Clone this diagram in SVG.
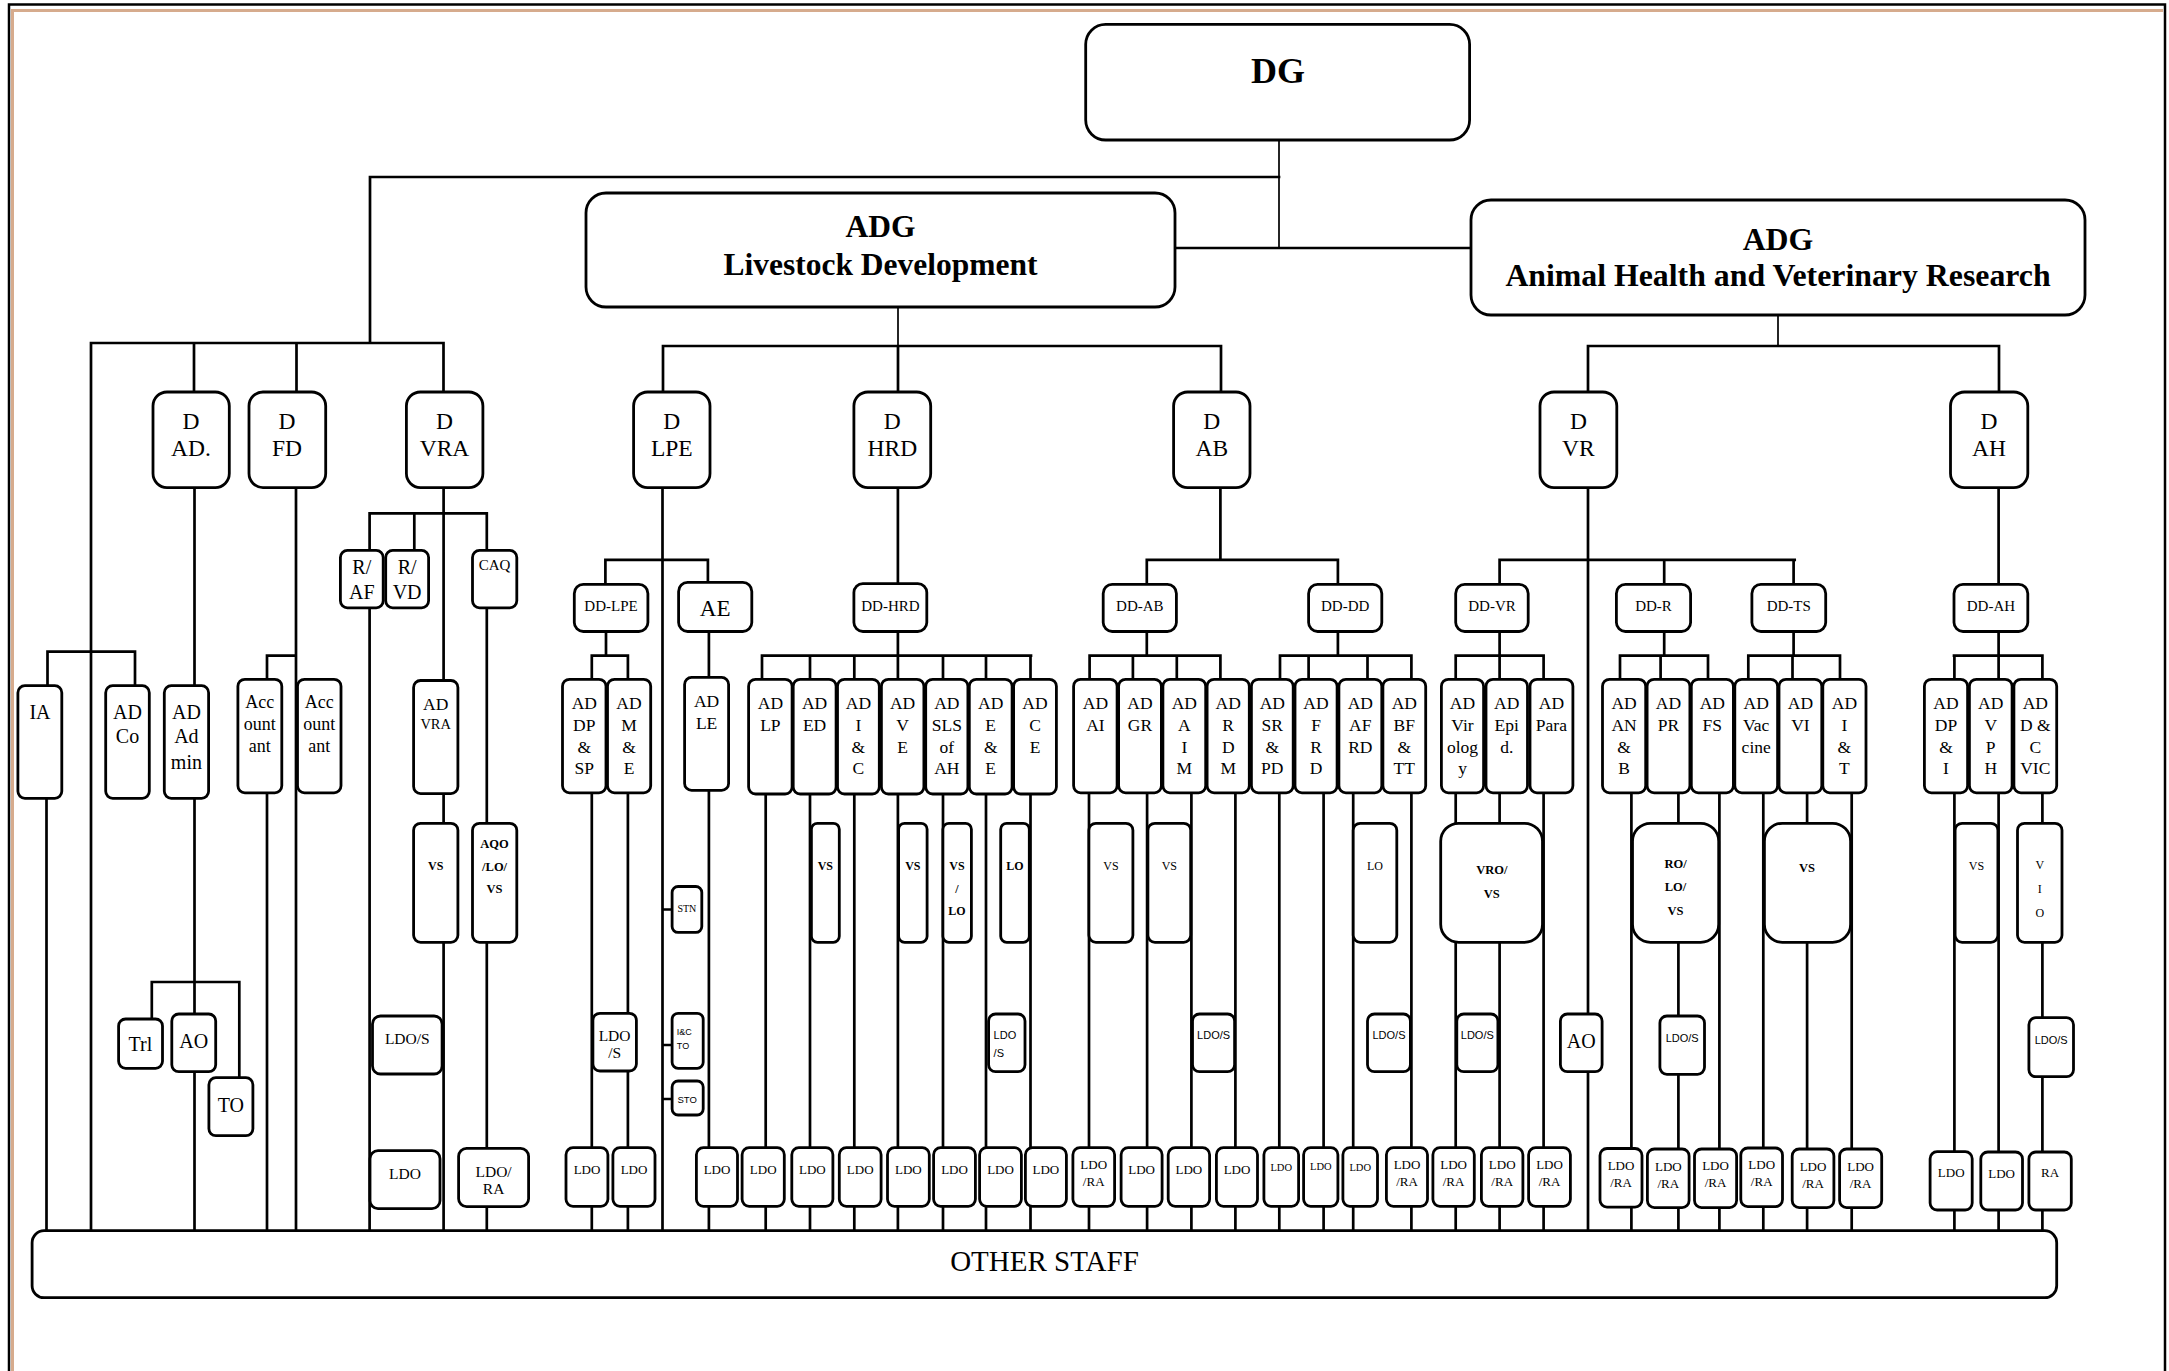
<svg xmlns="http://www.w3.org/2000/svg" width="2169" height="1371" viewBox="0 0 2169 1371">
<style>
.ln{fill:none;stroke:#000;stroke-width:2.7;stroke-linecap:square}
.thin{fill:none;stroke:#000;stroke-width:1.7}
.bx{fill:#fff;stroke:#000;stroke-width:2.8}
text{font-family:"Liberation Serif","Times New Roman",serif;fill:#000;text-anchor:middle}
.b{font-weight:bold}
.s{font-family:"Liberation Sans",Arial,sans-serif}
.d{font-size:23.5px}
.a{font-size:17.5px}
.l{font-size:20px}
.dd{font-size:15px}
.o13{font-size:13px}
.o15{font-size:15.5px}
.v{font-size:12px}
</style>
<rect width="2169" height="1371" fill="#fff"/>
<g id="frame">
<rect x="9" y="4.5" width="2156" height="1400" fill="none" stroke="#000" stroke-width="2.5"/>
<path d="M12.5 1371V10.5H2163" fill="none" stroke="#d6ab8d" stroke-width="3"/>
</g>
<g id="connectors">
<path class="thin" d="M1279 140V248M898 307V346M1778 315V346"/>
<path class="ln" d="M370 177H1279M370 177V343M1175 248H1471M663 346H1221M663 346V392M898 346V392M1221 346V392M1588 346H1999M1588 346V392M1999 346V392M91 343H443.5M91 343V1231M194 343V392M296.5 343V392M443.5 343V392
M47.5 651.6H135M47.5 651.6V686M135 651.6V686M46.5 798V1231M194.5 487V686M194.5 798V1231M151.8 982H239.3M151.8 982V1019M239.3 982V1078M296 487V1231M267 655.6H296M267 655.6V1231M443.6 487V1231M369.6 513.3H486.8M369.6 513.3V1231M414.3 513.3V550.4M486.8 513.3V1231
M662.5 487V1231M605.4 559.9H707.9M605.4 559.9V584.4M707.9 559.9V582.4M606 631.5V655.6M591.8 655.6H627.9M591.8 655.6V1231M627.9 655.6V1231M708.9 631.5V1231M662.5 909.5H672.1M662.5 1045H672.1M662.5 1099H672.1
M897.9 487V584M897.9 631.5V655.6M762 655.6H1031M762 655.6V680M765.7 794V1231M810 655.6V1231M854.3 655.6V1231M897.9 655.6V1231M943 655.6V1231M986 655.6V1231M1030.5 655.6V1231
M1220.4 487V559.9M1146.8 559.9H1337.9M1146.8 559.9V584.4M1337.9 559.9V584.4M1146.8 631.5V655.6M1089.6 655.6H1220.4M1089.6 655.6V680M1132.9 655.6V680M1176.8 655.6V680M1220.4 655.6V680M1089 793V1231M1147.1 793V1231M1191.4 793V1231M1235.4 793V1231M1337.9 631.5V655.6M1280 655.6H1411.4M1280 655.6V680M1308.6 655.6V680M1367.5 655.6V680M1411.4 655.6V680M1279.3 793V1231M1323.6 793V1231M1353.2 793V1231M1411.4 793V1231
M1588 487V1231M1499.6 559.9H1794.7M1499.6 559.9V584.4M1664.2 559.9V584.4M1793.6 559.9V584.4M1499.6 631.5V655.6M1455.7 655.6H1543.6M1455.7 655.6V1231M1499.6 655.6V1231M1543.6 655.6V1231M1664.2 631.5V655.6M1620 655.6H1708M1620 655.6V680M1660.6 655.6V680M1708 655.6V680M1631.4 793V1231M1678.4 793V1231M1719.4 793V1231M1793.6 631.5V655.6M1748.3 655.6H1840M1748.3 655.6V680M1792.5 655.6V680M1840 655.6V680M1763.3 793V1231M1807.1 793V1231M1851.7 793V1231
M1998.6 487V584.4M1998.6 631.5V655.6M1954 655.6H2042.4M1954.4 655.6V1231M1998.6 655.6V1231M2042.4 655.6V1231"/>
</g>
<g id="dg"><rect class="bx" x="1085.7" y="24.3" width="383.9" height="115.7" rx="20"/><text class="b" x="1278" y="83" font-size="36">DG</text></g>
<g id="adg-ld"><rect class="bx" x="586" y="193" width="589" height="114" rx="20"/><text class="b" font-size="31.5"><tspan x="880.5" y="237">ADG</tspan><tspan x="880.5" y="275">Livestock Development</tspan></text></g>
<g id="adg-ah"><rect class="bx" x="1471" y="200" width="614" height="115" rx="20"/><text class="b" font-size="31.8"><tspan x="1778" y="250">ADG</tspan><tspan x="1778" y="286">Animal Health and Veterinary Research</tspan></text></g>
<g id="d-ad"><rect class="bx" x="153" y="392" width="76.3" height="95.6" rx="14"/><text class="d"><tspan x="191" y="429">D</tspan><tspan x="191" y="456">AD.</tspan></text></g>
<g id="d-fd"><rect class="bx" x="249" y="392" width="76.7" height="95.6" rx="14"/><text class="d"><tspan x="287" y="429">D</tspan><tspan x="287" y="456">FD</tspan></text></g>
<g id="d-vra"><rect class="bx" x="406.4" y="392" width="76.5" height="95.6" rx="14"/><text class="d"><tspan x="444.5" y="429">D</tspan><tspan x="444.5" y="456">VRA</tspan></text></g>
<g id="d-lpe"><rect class="bx" x="633.6" y="392" width="76.4" height="95.6" rx="14"/><text class="d"><tspan x="671.8" y="429">D</tspan><tspan x="671.8" y="456">LPE</tspan></text></g>
<g id="d-hrd"><rect class="bx" x="853.9" y="392" width="76.8" height="95.6" rx="14"/><text class="d"><tspan x="892.3" y="429">D</tspan><tspan x="892.3" y="456">HRD</tspan></text></g>
<g id="d-ab"><rect class="bx" x="1173.6" y="392" width="76.4" height="95.6" rx="14"/><text class="d"><tspan x="1211.8" y="429">D</tspan><tspan x="1211.8" y="456">AB</tspan></text></g>
<g id="d-vr"><rect class="bx" x="1540" y="392" width="76.8" height="95.6" rx="14"/><text class="d"><tspan x="1578.4" y="429">D</tspan><tspan x="1578.4" y="456">VR</tspan></text></g>
<g id="d-ah"><rect class="bx" x="1950.5" y="392" width="77.3" height="95.6" rx="14"/><text class="d"><tspan x="1989.1" y="429">D</tspan><tspan x="1989.1" y="456">AH</tspan></text></g>
<g id="ia"><rect class="bx" x="17.9" y="685.7" width="43.9" height="112.6" rx="7"/><text class="l" x="40" y="719">IA</text></g>
<g id="ad-co"><rect class="bx" x="105.7" y="685.7" width="43.6" height="112.6" rx="7"/><text class="l"><tspan x="127.5" y="719">AD</tspan><tspan x="127.5" y="743">Co</tspan></text></g>
<g id="ad-admin"><rect class="bx" x="164.3" y="685.7" width="44.3" height="112.6" rx="7"/><text class="l"><tspan x="186.4" y="719">AD</tspan><tspan x="186.4" y="743">Ad</tspan><tspan x="186.4" y="768.7">min</tspan></text></g>
<g id="acc1"><rect class="bx" x="237.9" y="679.3" width="43.9" height="113.5" rx="7"/><text font-size="18"><tspan x="259.8" y="708.2">Acc</tspan><tspan x="259.8" y="730.3">ount</tspan><tspan x="259.8" y="751.7">ant</tspan></text></g>
<g id="acc2"><rect class="bx" x="297.5" y="679.3" width="43.5" height="113.5" rx="7"/><text font-size="18"><tspan x="319.2" y="708.2">Acc</tspan><tspan x="319.2" y="730.3">ount</tspan><tspan x="319.2" y="751.7">ant</tspan></text></g>
<g id="trl"><rect class="bx" x="118.6" y="1019" width="43.9" height="49.3" rx="7"/><text class="l" x="140.4" y="1051">Trl</text></g>
<g id="ao-ad"><rect class="bx" x="171.8" y="1014" width="43.9" height="57.7" rx="7"/><text class="l" x="193.7" y="1048.3">AO</text></g>
<g id="to"><rect class="bx" x="208.9" y="1077.7" width="44" height="58" rx="7"/><text class="l" x="230.9" y="1111.7">TO</text></g>
<g id="r-af"><rect class="bx" x="340.4" y="550.4" width="42.8" height="57.4" rx="7"/><text class="l"><tspan x="361.8" y="573.8">R/</tspan><tspan x="361.8" y="598.7">AF</tspan></text></g>
<g id="r-vd"><rect class="bx" x="385.7" y="550.4" width="42.9" height="57.4" rx="7"/><text class="l"><tspan x="407.1" y="573.8">R/</tspan><tspan x="407.1" y="598.7">VD</tspan></text></g>
<g id="caq"><rect class="bx" x="472.5" y="550.4" width="44.3" height="57.4" rx="7"/><text x="494.6" y="569.8" font-size="15">CAQ</text></g>
<g id="ad-vra"><rect class="bx" x="413.6" y="680.5" width="44.3" height="113.1" rx="7"/><text class="a" x="435.7" y="710">AD</text><text x="435.7" y="729" font-size="14.5">VRA</text></g>
<g id="vs-vra"><rect class="bx" x="413.6" y="823.3" width="44.3" height="119" rx="7"/><text class="b v" x="435.7" y="870">VS</text></g>
<g id="aqo"><rect class="bx" x="472.5" y="823.3" width="44.3" height="119" rx="7"/><text class="b" font-size="12.5"><tspan x="494.6" y="848">AQO</tspan><tspan x="494.6" y="870.5">/LO/</tspan><tspan x="494.6" y="893">VS</tspan></text></g>
<g id="ldos-vra"><rect class="bx" x="372.5" y="1016" width="69.6" height="58" rx="8"/><text class="o15" x="407.3" y="1044.3">LDO/S</text></g>
<g id="ldo-vra"><rect class="bx" x="370" y="1150.7" width="70" height="58" rx="8"/><text class="o15" x="405" y="1178.7">LDO</text></g>
<g id="ldora-vra"><rect class="bx" x="458.6" y="1148.3" width="70" height="58.4" rx="8"/><text class="o15"><tspan x="493.6" y="1176.7">LDO/</tspan><tspan x="493.6" y="1194">RA</tspan></text></g>
<g id="dd-lpe"><rect class="bx" x="574.3" y="584.4" width="73.6" height="47.1" rx="9"/><text class="dd" x="611" y="611.3">DD-LPE</text></g>
<g id="ae"><rect class="bx" x="678.6" y="582.4" width="73.2" height="49.1" rx="9"/><text x="715.2" y="615.7" font-size="23">AE</text></g>
<g id="ad-dpsp"><rect class="bx" x="562.5" y="679.3" width="43.5" height="113.5" rx="7"/><text class="a"><tspan x="584.3" y="709">AD</tspan><tspan x="584.3" y="731">DP</tspan><tspan x="584.3" y="752.5">&amp;</tspan><tspan x="584.3" y="774">SP</tspan></text></g>
<g id="ad-me"><rect class="bx" x="607.5" y="679.3" width="43.2" height="113.5" rx="7"/><text class="a"><tspan x="629" y="709">AD</tspan><tspan x="629" y="731">M</tspan><tspan x="629" y="752.5">&amp;</tspan><tspan x="629" y="774">E</tspan></text></g>
<g id="ad-le"><rect class="bx" x="684.6" y="677.4" width="44" height="113" rx="7"/><text class="a"><tspan x="706.6" y="707">AD</tspan><tspan x="706.6" y="729.2">LE</tspan></text></g>
<g id="stn"><rect class="bx" x="672.1" y="886.5" width="29.7" height="45.9" rx="6"/><text x="686.9" y="912" font-size="10">STN</text></g>
<g id="ictc"><rect class="bx" x="672.1" y="1013.3" width="31.1" height="55" rx="6"/><text class="s" font-size="9" style="text-anchor:start"><tspan x="676.8" y="1035.3">I&amp;C</tspan><tspan x="676.8" y="1049">TO</tspan></text></g>
<g id="sto"><rect class="bx" x="672.1" y="1081" width="31.1" height="34" rx="6"/><text class="s" x="687.2" y="1102.7" font-size="9.5">STO</text></g>
<g id="ldos-lpe"><rect class="bx" x="592.9" y="1013.3" width="43.5" height="57.7" rx="7"/><text class="o15"><tspan x="614.6" y="1041">LDO</tspan><tspan x="614.6" y="1058.3">/S</tspan></text></g>
<g id="dd-hrd"><rect class="bx" x="853.9" y="583.6" width="72.9" height="47.9" rx="9"/><text class="dd" x="890.4" y="611">DD-HRD</text></g>
<g id="ad-lp"><rect class="bx" x="748.6" y="679.3" width="43.5" height="114.7" rx="7"/><text class="a"><tspan x="770.4" y="709">AD</tspan><tspan x="770.4" y="731">LP</tspan></text></g>
<g id="ad-ed"><rect class="bx" x="793.2" y="679.3" width="42.9" height="114.7" rx="7"/><text class="a"><tspan x="814.6" y="709">AD</tspan><tspan x="814.6" y="731">ED</tspan></text></g>
<g id="ad-ic"><rect class="bx" x="837.5" y="679.3" width="41.8" height="114.7" rx="7"/><text class="a"><tspan x="858.4" y="709">AD</tspan><tspan x="858.4" y="731">I</tspan><tspan x="858.4" y="752.5">&amp;</tspan><tspan x="858.4" y="774">C</tspan></text></g>
<g id="ad-ve"><rect class="bx" x="881.4" y="679.3" width="42.5" height="114.7" rx="7"/><text class="a"><tspan x="902.6" y="709">AD</tspan><tspan x="902.6" y="731">V</tspan><tspan x="902.6" y="752.5">E</tspan></text></g>
<g id="ad-sls"><rect class="bx" x="925.7" y="679.3" width="42.2" height="114.7" rx="7"/><text class="a"><tspan x="946.8" y="709">AD</tspan><tspan x="946.8" y="731">SLS</tspan><tspan x="946.8" y="752.5">of</tspan><tspan x="946.8" y="774">AH</tspan></text></g>
<g id="ad-ee"><rect class="bx" x="969.3" y="679.3" width="42.8" height="114.7" rx="7"/><text class="a"><tspan x="990.7" y="709">AD</tspan><tspan x="990.7" y="731">E</tspan><tspan x="990.7" y="752.5">&amp;</tspan><tspan x="990.7" y="774">E</tspan></text></g>
<g id="ad-ce"><rect class="bx" x="1013.6" y="679.3" width="42.8" height="114.7" rx="7"/><text class="a"><tspan x="1035" y="709">AD</tspan><tspan x="1035" y="731">C</tspan><tspan x="1035" y="752.5">E</tspan></text></g>
<g id="vs-ed"><rect class="bx" x="811.4" y="823.3" width="27.9" height="119" rx="6"/><text class="b v" x="825.3" y="870">VS</text></g>
<g id="vs-ve"><rect class="bx" x="898.6" y="823.3" width="28.5" height="119" rx="6"/><text class="b v" x="912.8" y="870">VS</text></g>
<g id="vslo-sls"><rect class="bx" x="942.9" y="823.3" width="28.5" height="119" rx="6"/><text class="b v"><tspan x="957" y="870.3">VS</tspan><tspan x="957" y="893">/</tspan><tspan x="957" y="915">LO</tspan></text></g>
<g id="lo-ee"><rect class="bx" x="1000.7" y="823.3" width="28.6" height="119" rx="6"/><text class="b v" x="1015" y="870">LO</text></g>
<g id="ldos-ee"><rect class="bx" x="988.6" y="1014" width="36.4" height="57.7" rx="7"/><text class="s" font-size="11" style="text-anchor:start"><tspan x="993.6" y="1039">LDO</tspan><tspan x="993.6" y="1057.3">/S</tspan></text></g>
<g id="dd-ab"><rect class="bx" x="1103.2" y="584.4" width="73.2" height="47.1" rx="9"/><text class="dd" x="1139.8" y="611">DD-AB</text></g>
<g id="dd-dd"><rect class="bx" x="1308.6" y="584.4" width="73.2" height="47.1" rx="9"/><text class="dd" x="1345.2" y="611">DD-DD</text></g>
<g id="ad-ai"><rect class="bx" x="1073.6" y="679.3" width="43.5" height="113.5" rx="7"/><text class="a"><tspan x="1095.4" y="709">AD</tspan><tspan x="1095.4" y="731">AI</tspan></text></g>
<g id="ad-gr"><rect class="bx" x="1118.6" y="679.3" width="42.8" height="113.5" rx="7"/><text class="a"><tspan x="1140" y="709">AD</tspan><tspan x="1140" y="731">GR</tspan></text></g>
<g id="ad-aim"><rect class="bx" x="1162.9" y="679.3" width="42.8" height="113.5" rx="7"/><text class="a"><tspan x="1184.3" y="709">AD</tspan><tspan x="1184.3" y="731">A</tspan><tspan x="1184.3" y="752.5">I</tspan><tspan x="1184.3" y="774">M</tspan></text></g>
<g id="ad-rdm"><rect class="bx" x="1207.1" y="679.3" width="42.2" height="113.5" rx="7"/><text class="a"><tspan x="1228.2" y="709">AD</tspan><tspan x="1228.2" y="731">R</tspan><tspan x="1228.2" y="752.5">D</tspan><tspan x="1228.2" y="774">M</tspan></text></g>
<g id="ad-srpd"><rect class="bx" x="1251.4" y="679.3" width="41.8" height="113.5" rx="7"/><text class="a"><tspan x="1272.3" y="709">AD</tspan><tspan x="1272.3" y="731">SR</tspan><tspan x="1272.3" y="752.5">&amp;</tspan><tspan x="1272.3" y="774">PD</tspan></text></g>
<g id="ad-frd"><rect class="bx" x="1295" y="679.3" width="42.1" height="113.5" rx="7"/><text class="a"><tspan x="1316" y="709">AD</tspan><tspan x="1316" y="731">F</tspan><tspan x="1316" y="752.5">R</tspan><tspan x="1316" y="774">D</tspan></text></g>
<g id="ad-afrd"><rect class="bx" x="1338.9" y="679.3" width="42.9" height="113.5" rx="7"/><text class="a"><tspan x="1360.3" y="709">AD</tspan><tspan x="1360.3" y="731">AF</tspan><tspan x="1360.3" y="752.5">RD</tspan></text></g>
<g id="ad-bftt"><rect class="bx" x="1382.9" y="679.3" width="42.8" height="113.5" rx="7"/><text class="a"><tspan x="1404.3" y="709">AD</tspan><tspan x="1404.3" y="731">BF</tspan><tspan x="1404.3" y="752.5">&amp;</tspan><tspan x="1404.3" y="774">TT</tspan></text></g>
<g id="vs-ai"><rect class="bx" x="1088.9" y="823.3" width="44" height="119" rx="7"/><text class="v" x="1110.9" y="870">VS</text></g>
<g id="vs-gr"><rect class="bx" x="1147.9" y="823.3" width="42.8" height="119" rx="7"/><text class="v" x="1169.3" y="870">VS</text></g>
<g id="lo-afrd"><rect class="bx" x="1353.2" y="823.3" width="43.6" height="119" rx="7"/><text class="v" x="1375" y="870">LO</text></g>
<g id="ldos-aim"><rect class="bx" x="1192.5" y="1014" width="42.1" height="57.7" rx="7"/><text class="s" x="1213.6" y="1039" font-size="11">LDO/S</text></g>
<g id="ldos-afrd"><rect class="bx" x="1367.5" y="1014" width="42.9" height="57.7" rx="7"/><text class="s" x="1389" y="1039" font-size="11">LDO/S</text></g>
<g id="dd-vr"><rect class="bx" x="1455.7" y="584.4" width="72.5" height="47.1" rx="9"/><text class="dd" x="1492" y="611">DD-VR</text></g>
<g id="ad-vir"><rect class="bx" x="1441.4" y="679.3" width="42.2" height="113.5" rx="7"/><text class="a"><tspan x="1462.5" y="709">AD</tspan><tspan x="1462.5" y="731">Vir</tspan><tspan x="1462.5" y="752.5">olog</tspan><tspan x="1462.5" y="774">y</tspan></text></g>
<g id="ad-epid"><rect class="bx" x="1486" y="679.3" width="41.5" height="113.5" rx="7"/><text class="a"><tspan x="1506.7" y="709">AD</tspan><tspan x="1506.7" y="731">Epi</tspan><tspan x="1506.7" y="752.5">d.</tspan></text></g>
<g id="ad-para"><rect class="bx" x="1530" y="679.3" width="42.9" height="113.5" rx="7"/><text class="a"><tspan x="1551.4" y="709">AD</tspan><tspan x="1551.4" y="731">Para</tspan></text></g>
<g id="vro"><rect class="bx" x="1440.7" y="823.3" width="101.8" height="119" rx="18"/><text class="b" font-size="12.5"><tspan x="1491.8" y="874.3">VRO/</tspan><tspan x="1491.8" y="898">VS</tspan></text></g>
<g id="ldos-vr"><rect class="bx" x="1456.8" y="1014" width="41.1" height="57.7" rx="7"/><text class="s" x="1477.3" y="1039" font-size="11">LDO/S</text></g>
<g id="ao-vr"><rect class="bx" x="1560.4" y="1014" width="41.7" height="57.7" rx="7"/><text class="l" x="1581.3" y="1048.3">AO</text></g>
<g id="dd-r"><rect class="bx" x="1616.4" y="584.4" width="74.2" height="47.1" rx="9"/><text class="dd" x="1653.5" y="611">DD-R</text></g>
<g id="dd-ts"><rect class="bx" x="1751.9" y="584.4" width="73.8" height="47.1" rx="9"/><text class="dd" x="1788.8" y="611">DD-TS</text></g>
<g id="ad-anb"><rect class="bx" x="1602.5" y="679.3" width="43.2" height="113.5" rx="7"/><text class="a"><tspan x="1624.1" y="709">AD</tspan><tspan x="1624.1" y="731">AN</tspan><tspan x="1624.1" y="752.5">&amp;</tspan><tspan x="1624.1" y="774">B</tspan></text></g>
<g id="ad-pr"><rect class="bx" x="1647.1" y="679.3" width="42.8" height="113.5" rx="7"/><text class="a"><tspan x="1668.5" y="709">AD</tspan><tspan x="1668.5" y="731">PR</tspan></text></g>
<g id="ad-fs"><rect class="bx" x="1691.3" y="679.3" width="42.1" height="113.5" rx="7"/><text class="a"><tspan x="1712.3" y="709">AD</tspan><tspan x="1712.3" y="731">FS</tspan></text></g>
<g id="ad-vac"><rect class="bx" x="1734.8" y="679.3" width="42.8" height="113.5" rx="7"/><text class="a"><tspan x="1756.2" y="709">AD</tspan><tspan x="1756.2" y="731">Vac</tspan><tspan x="1756.2" y="752.5">cine</tspan></text></g>
<g id="ad-vi"><rect class="bx" x="1779" y="679.3" width="42.8" height="113.5" rx="7"/><text class="a"><tspan x="1800.4" y="709">AD</tspan><tspan x="1800.4" y="731">VI</tspan></text></g>
<g id="ad-it"><rect class="bx" x="1822.8" y="679.3" width="43.2" height="113.5" rx="7"/><text class="a"><tspan x="1844.4" y="709">AD</tspan><tspan x="1844.4" y="731">I</tspan><tspan x="1844.4" y="752.5">&amp;</tspan><tspan x="1844.4" y="774">T</tspan></text></g>
<g id="rolovs"><rect class="bx" x="1632.5" y="823.3" width="86.2" height="119" rx="18"/><text class="b" font-size="12.5"><tspan x="1675.5" y="868.3">RO/</tspan><tspan x="1675.5" y="891.3">LO/</tspan><tspan x="1675.5" y="915">VS</tspan></text></g>
<g id="vs-ts"><rect class="bx" x="1764.4" y="823.3" width="86.2" height="119" rx="18"/><text class="b" x="1807" y="872" font-size="12.5">VS</text></g>
<g id="ldos-r"><rect class="bx" x="1659.9" y="1016" width="44.6" height="58.3" rx="7"/><text class="s" x="1682.2" y="1041.7" font-size="11">LDO/S</text></g>
<g id="dd-ah"><rect class="bx" x="1954" y="584.4" width="73.8" height="47.1" rx="9"/><text class="dd" x="1990.9" y="611">DD-AH</text></g>
<g id="ad-dpi"><rect class="bx" x="1924.4" y="679.3" width="43.2" height="113.5" rx="7"/><text class="a"><tspan x="1946" y="709">AD</tspan><tspan x="1946" y="731">DP</tspan><tspan x="1946" y="752.5">&amp;</tspan><tspan x="1946" y="774">I</tspan></text></g>
<g id="ad-vph"><rect class="bx" x="1969.4" y="679.3" width="42.7" height="113.5" rx="7"/><text class="a"><tspan x="1990.7" y="709">AD</tspan><tspan x="1990.7" y="731">V</tspan><tspan x="1990.7" y="752.5">P</tspan><tspan x="1990.7" y="774">H</tspan></text></g>
<g id="ad-dcvic"><rect class="bx" x="2013.9" y="679.3" width="42.8" height="113.5" rx="7"/><text class="a"><tspan x="2035.3" y="709">AD</tspan><tspan x="2035.3" y="731">D &amp;</tspan><tspan x="2035.3" y="752.5">C</tspan><tspan x="2035.3" y="774">VIC</tspan></text></g>
<g id="vs-ah"><rect class="bx" x="1955.1" y="823.3" width="42.8" height="119" rx="7"/><text class="v" x="1976.5" y="870">VS</text></g>
<g id="vio"><rect class="bx" x="2017.5" y="823.3" width="44.5" height="119" rx="7"/><text class="v"><tspan x="2039.8" y="869">V</tspan><tspan x="2039.8" y="893">I</tspan><tspan x="2039.8" y="916.6">O</tspan></text></g>
<g id="ldos-ah"><rect class="bx" x="2028.9" y="1017.7" width="44.6" height="59" rx="7"/><text class="s" x="2051.2" y="1044.3" font-size="11">LDO/S</text></g>
<g id="ldo-row" class="o13">
<g id="ldo1"><rect class="bx" x="566" y="1147.7" width="41.9" height="58.6" rx="7"/><text x="587" y="1174.3">LDO</text></g>
<g id="ldo2"><rect class="bx" x="612.9" y="1147.7" width="42.1" height="58.6" rx="7"/><text x="634" y="1174.3">LDO</text></g>
<g id="ldo3"><rect class="bx" x="696.4" y="1147.7" width="41.1" height="58.6" rx="7"/><text x="717" y="1174.3">LDO</text></g>
<g id="ldo4"><rect class="bx" x="742.1" y="1147.7" width="42.2" height="58.6" rx="7"/><text x="763.2" y="1174.3">LDO</text></g>
<g id="ldo5"><rect class="bx" x="791.8" y="1147.7" width="41.1" height="58.6" rx="7"/><text x="812.4" y="1174.3">LDO</text></g>
<g id="ldo6"><rect class="bx" x="839.3" y="1147.7" width="41.8" height="58.6" rx="7"/><text x="860.2" y="1174.3">LDO</text></g>
<g id="ldo7"><rect class="bx" x="887.5" y="1147.7" width="41.8" height="58.6" rx="7"/><text x="908.4" y="1174.3">LDO</text></g>
<g id="ldo8"><rect class="bx" x="933.6" y="1147.7" width="41.8" height="58.6" rx="7"/><text x="954.5" y="1174.3">LDO</text></g>
<g id="ldo9"><rect class="bx" x="979.6" y="1147.7" width="41.8" height="58.6" rx="7"/><text x="1000.5" y="1174.3">LDO</text></g>
<g id="ldo10"><rect class="bx" x="1025.4" y="1147.7" width="41" height="58.6" rx="7"/><text x="1045.9" y="1174.3">LDO</text></g>
<g id="ldora-ai"><rect class="bx" x="1072.9" y="1147.7" width="41.7" height="58.6" rx="7"/><text><tspan x="1093.7" y="1169">LDO</tspan><tspan x="1093.7" y="1185.7">/RA</tspan></text></g>
<g id="ldo-gr"><rect class="bx" x="1121.1" y="1147.7" width="41" height="58.6" rx="7"/><text x="1141.6" y="1174.3">LDO</text></g>
<g id="ldo-aim"><rect class="bx" x="1168.2" y="1147.7" width="41.4" height="58.6" rx="7"/><text x="1188.9" y="1174.3">LDO</text></g>
<g id="ldo-rdm"><rect class="bx" x="1216.4" y="1147.7" width="41.1" height="58.6" rx="7"/><text x="1237" y="1174.3">LDO</text></g>
<g id="ldo-srpd"><rect class="bx" x="1263.9" y="1147.7" width="34.7" height="58.6" rx="7"/><text x="1281.2" y="1170.7" font-size="10.5">LDO</text></g>
<g id="ldo-frd"><rect class="bx" x="1303.6" y="1147.7" width="34.3" height="58.6" rx="7"/><text x="1320.8" y="1169.7" font-size="10.5">LDO</text></g>
<g id="ldo-afrd"><rect class="bx" x="1342.9" y="1147.7" width="34.6" height="58.6" rx="7"/><text x="1360.2" y="1170.7" font-size="10.5">LDO</text></g>
<g id="ldora-bftt"><rect class="bx" x="1386.4" y="1147.7" width="41.1" height="58.6" rx="7"/><text><tspan x="1407" y="1169">LDO</tspan><tspan x="1407" y="1185.7">/RA</tspan></text></g>
<g id="ldora-vir"><rect class="bx" x="1432.9" y="1147.7" width="41.4" height="58.6" rx="7"/><text><tspan x="1453.6" y="1169">LDO</tspan><tspan x="1453.6" y="1185.7">/RA</tspan></text></g>
<g id="ldora-epid"><rect class="bx" x="1481.4" y="1147.7" width="41.5" height="58.6" rx="7"/><text><tspan x="1502.2" y="1169">LDO</tspan><tspan x="1502.2" y="1185.7">/RA</tspan></text></g>
<g id="ldora-para"><rect class="bx" x="1528.6" y="1147.7" width="41.8" height="58.6" rx="7"/><text><tspan x="1549.5" y="1169">LDO</tspan><tspan x="1549.5" y="1185.7">/RA</tspan></text></g>
<g id="ldora-anb"><rect class="bx" x="1600" y="1148.5" width="42" height="58.6" rx="7"/><text><tspan x="1621" y="1170">LDO</tspan><tspan x="1621" y="1186.5">/RA</tspan></text></g>
<g id="ldora-pr"><rect class="bx" x="1647.4" y="1149" width="41.7" height="58.6" rx="7"/><text><tspan x="1668.3" y="1171">LDO</tspan><tspan x="1668.3" y="1187.5">/RA</tspan></text></g>
<g id="ldora-fs"><rect class="bx" x="1694.5" y="1149" width="42.1" height="58.6" rx="7"/><text><tspan x="1715.5" y="1170">LDO</tspan><tspan x="1715.5" y="1186.5">/RA</tspan></text></g>
<g id="ldora-vac"><rect class="bx" x="1740.8" y="1148" width="41.7" height="58.6" rx="7"/><text><tspan x="1761.7" y="1169">LDO</tspan><tspan x="1761.7" y="1186">/RA</tspan></text></g>
<g id="ldora-vi"><rect class="bx" x="1792.2" y="1149" width="41.7" height="58.6" rx="7"/><text><tspan x="1813" y="1171">LDO</tspan><tspan x="1813" y="1187.5">/RA</tspan></text></g>
<g id="ldora-it"><rect class="bx" x="1839.6" y="1149" width="42.1" height="58.6" rx="7"/><text><tspan x="1860.6" y="1171">LDO</tspan><tspan x="1860.6" y="1187.5">/RA</tspan></text></g>
<g id="ldo-dpi"><rect class="bx" x="1930.1" y="1151.7" width="42.1" height="58.3" rx="7"/><text x="1951.2" y="1176.7">LDO</text></g>
<g id="ldo-vph"><rect class="bx" x="1980.8" y="1152" width="41.7" height="58" rx="7"/><text x="2001.6" y="1177.5">LDO</text></g>
<g id="ra"><rect class="bx" x="2028.9" y="1152" width="42.4" height="58" rx="7"/><text x="2050.1" y="1177">RA</text></g>
</g>
<g id="other-staff"><rect class="bx" x="32.1" y="1230.7" width="2024.6" height="67" rx="12"/><text x="1044.5" y="1271" font-size="29">OTHER STAFF</text></g>
</svg>
